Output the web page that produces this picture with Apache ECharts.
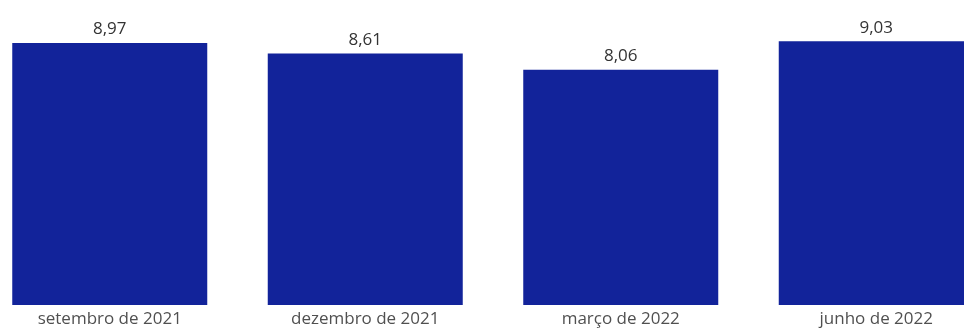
<!DOCTYPE html>
<html><head><meta charset="utf-8">
<script src="https://cdn.jsdelivr.net/npm/echarts@6/dist/echarts.min.js"></script>
<style>html,body{margin:0;padding:0;background:#fff}#c{width:964px;height:332px}</style>
</head><body><div id="c"></div>
<script>
const categories = ["setembro de 2021", "dezembro de 2021", "março de 2022", "junho de 2022"];
const values = [8.97, 8.61, 8.06, 9.03];

const chart = echarts.init(document.getElementById('c'), null, {renderer: 'canvas'});
chart.setOption({
  animation: false,
  grid: {left: -18, right: -40, top: 13, bottom: 27, containLabel: false, outerBoundsMode: 'none'},
  xAxis: {
    type: 'category', data: categories,
    axisLine: {show: false}, axisTick: {show: false},
    axisLabel: {fontFamily: 'Open Sans', fontSize: 17, color: '#505050', margin: 6}
  },
  yAxis: {type: 'value', min: 0, max: 10, show: false},
  series: [{
    type: 'bar', data: values, barWidth: 195,
    itemStyle: {color: '#12239a'},
    label: {
      show: true, position: 'top', distance: 5,
      fontFamily: 'Open Sans', fontSize: 17, color: '#333',
      formatter: p => p.value.toFixed(2).replace('.', ',')
    }
  }]
});
</script></body></html>
